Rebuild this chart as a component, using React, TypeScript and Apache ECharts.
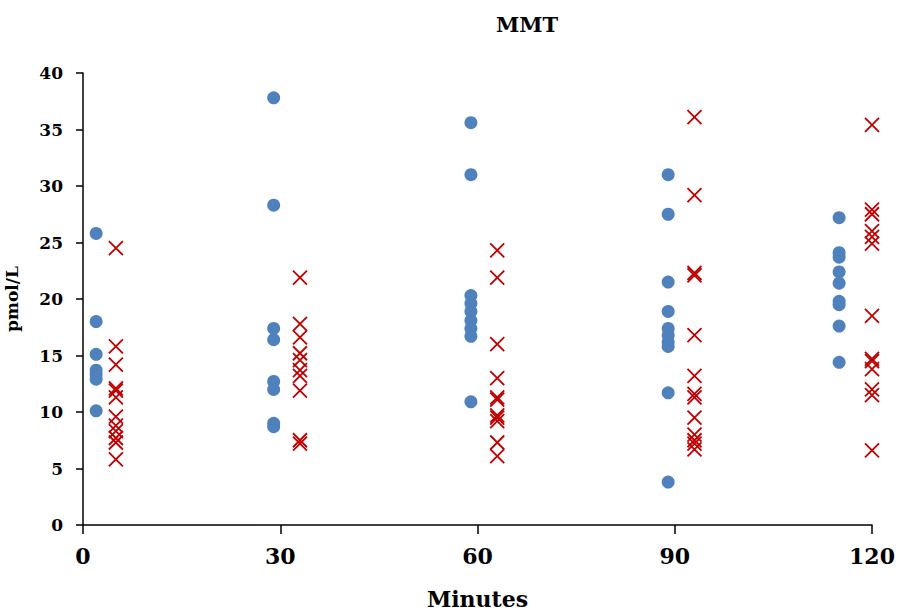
import React, { useEffect, useRef } from "react";
import * as echarts from "echarts";

const title = "MMT";
const xAxisName = "Minutes";
const yAxisName = "pmol/L";

const blueTimes = [2, 29, 59, 89, 115];
const redTimes = [5, 33, 63, 93, 120];

const blue0 = [25.8, 18.0, 15.1, 13.7, 13.3, 12.9, 10.1];
const blue30 = [37.8, 28.3, 17.4, 16.4, 12.7, 12.0, 9.0, 8.7];
const blue60 = [35.6, 31.0, 20.3, 19.6, 18.9, 18.1, 17.4, 16.7, 10.9];
const blue90 = [31.0, 27.5, 21.5, 18.9, 17.4, 16.8, 16.2, 15.8, 11.7, 3.8];
const blue120 = [27.2, 24.1, 23.7, 22.4, 21.4, 19.8, 19.5, 17.6, 14.4];

const red0 = [24.5, 15.8, 14.2, 12.1, 11.9, 11.3, 9.6, 8.8, 8.3, 7.7, 7.3, 5.8];
const red30 = [21.9, 17.8, 16.6, 15.2, 14.6, 13.7, 13.2, 11.9, 7.5, 7.2];
const red60 = [24.3, 21.9, 16.0, 13.0, 11.3, 11.1, 9.7, 9.5, 9.2, 7.3, 6.1];
const red90 = [36.1, 29.2, 22.3, 22.1, 16.8, 13.2, 11.6, 11.3, 9.5, 8.0, 7.5, 7.2, 6.7];
const red120 = [35.4, 27.9, 27.5, 26.0, 25.5, 24.9, 18.5, 14.7, 14.5, 13.8, 12.0, 11.5, 6.6];

const blueGroups = [blue0, blue30, blue60, blue90, blue120];
const redGroups = [red0, red30, red60, red90, red120];

const FONT = "DejaVu Serif";

export default function App() {
  const ref = useRef<HTMLDivElement>(null);
  useEffect(() => {
    document.body.style.margin = "0";
    if (!ref.current) return;
    const chart = echarts.init(ref.current, undefined, { renderer: "svg" });
    const blueData: number[][] = [];
    blueGroups.forEach((g, i) => g.forEach((v) => blueData.push([blueTimes[i], v])));
    const redData: number[][] = [];
    redGroups.forEach((g, i) => g.forEach((v) => redData.push([redTimes[i], v])));
    chart.setOption({
      animation: false,
      backgroundColor: "#ffffff",
      title: {
        text: title,
        left: 522,
        top: 9,
        textAlign: "center",
        textStyle: { fontFamily: FONT, fontWeight: "bold", fontSize: 21, color: "#000" },
      },
      grid: { left: 83, right: 26, top: 73, bottom: 90, containLabel: false, outerBoundsMode: "none" },
      xAxis: {
        type: "value",
        min: 0,
        max: 120,
        interval: 30,
        name: xAxisName,
        nameLocation: "middle",
        nameGap: 63,
        nameTextStyle: { fontFamily: FONT, fontWeight: "bold", fontSize: 22, color: "#000" },
        axisLine: { show: true, onZero: false, lineStyle: { color: "#000", width: 1.5 } },
        axisTick: { show: true, inside: false, length: 9, lineStyle: { color: "#000", width: 1.5 } },
        axisLabel: { margin: 20, fontFamily: FONT, fontWeight: "bold", fontSize: 22, color: "#000" },
        splitLine: { show: false },
      },
      yAxis: {
        type: "value",
        min: 0,
        max: 40,
        interval: 5,
        name: yAxisName,
        nameLocation: "middle",
        nameGap: 63,
        nameRotate: 90,
        nameTextStyle: { fontFamily: FONT, fontWeight: "bold", fontSize: 17, color: "#000" },
        axisLine: { show: true, lineStyle: { color: "#000", width: 1.5 } },
        axisTick: { show: true, inside: false, length: 7, lineStyle: { color: "#000", width: 1.5 } },
        axisLabel: { margin: 20, fontFamily: FONT, fontWeight: "bold", fontSize: 17, color: "#000" },
        splitLine: { show: false },
      },
      series: [
        {
          type: "scatter",
          data: blueData,
          symbol: "circle",
          symbolSize: 13,
          itemStyle: { color: "#4F81BD", opacity: 1 },
          z: 2,
        },
        {
          type: "scatter",
          data: redData,
          symbol: "path://M0,0L10,10M10,0L0,10",
          symbolSize: 14,
          itemStyle: { color: "none", borderColor: "#C00000", borderWidth: 1.8, opacity: 1 },
          z: 3,
        },
      ],
    });
    return () => chart.dispose();
  }, []);
  return <div ref={ref} style={{ width: 898, height: 615 }} />;
}
